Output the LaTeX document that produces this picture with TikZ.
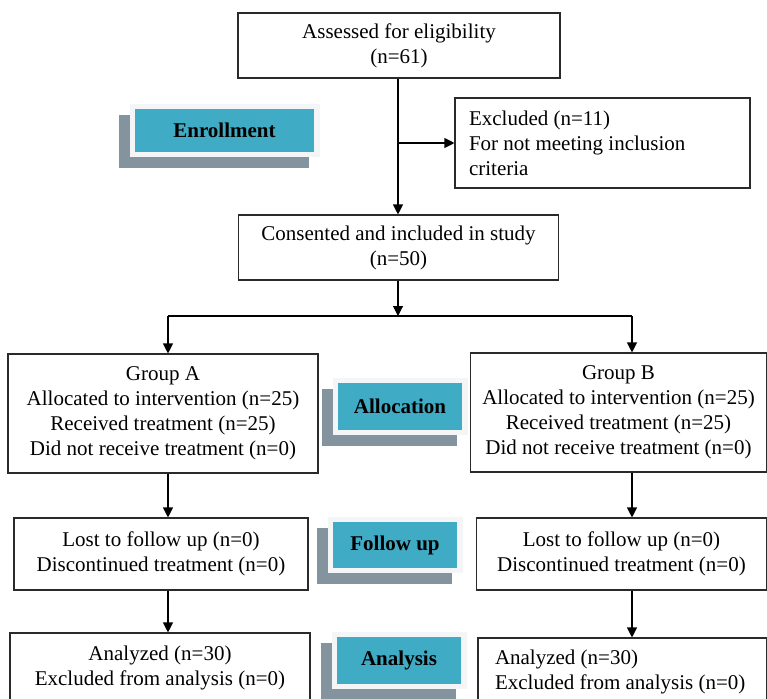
\documentclass[tikz,border=0pt]{standalone}
\usepackage{fontspec}
\setmainfont{Liberation Serif}
\usetikzlibrary{arrows.meta,calc,backgrounds}
\definecolor{tealc}{HTML}{40ABC4}
\definecolor{shadowc}{HTML}{84949E}
\definecolor{framec}{HTML}{F4F5F7}
\definecolor{linec}{HTML}{2A2A2A}
\begin{document}
\begin{tikzpicture}[x=1pt,y=1pt,
  box/.style={draw=linec, line width=1.1pt, fill=white, inner sep=0pt, align=center,
    font=\fontsize{21}{25}\selectfont},
  lbox/.style={box, align=flush left, inner xsep=14pt},
  arr/.style={draw=black, line width=1.1pt, -{Triangle[length=10pt,width=10pt]}},
  ln/.style={draw=black, line width=1.1pt},
  lbl/.style={fill=tealc, inner sep=0pt, font=\fontsize{21}{22}\selectfont\bfseries, text=black},
]
\useasboundingbox (0,0) rectangle (767,-698);
\clip (0,0) rectangle (767,-698);

% main boxes
\node[box, minimum width=322, minimum height=65] (elig) at (399,-45.5) {Assessed for eligibility\\(n=61)};
\node[lbox, text width=267, minimum height=90] (excl) at (602.5,-143) {Excluded (n=11)\\For not meeting inclusion\\criteria};
\node[box, minimum width=320, minimum height=65] (cons) at (398.5,-247.5) {Consented and included in study\\(n=50)};

\node[box, minimum width=310, minimum height=119] (ga) at (163,-413.5) {Group A\\Allocated to intervention (n=25)\\Received treatment (n=25)\\Did not receive treatment (n=0)};
\node[box, minimum width=296, minimum height=119] (gb) at (618.5,-412.5) {Group B\\Allocated to intervention (n=25)\\Received treatment (n=25)\\Did not receive treatment (n=0)};

\node[box, minimum width=294, minimum height=72] (fa) at (161,-554) {Lost to follow up (n=0)\\Discontinued treatment (n=0)};
\node[box, minimum width=290, minimum height=72] (fb) at (621.5,-554) {Lost to follow up (n=0)\\Discontinued treatment (n=0)};

\node[box, minimum width=300, minimum height=70] (aa) at (160,-668) {Analyzed (n=30)\\Excluded from analysis (n=0)};
\node[lbox, inner xsep=17pt, text width=255, minimum height=68] (ab) at (622.5,-672) {Analyzed (n=30)\\Excluded from analysis (n=0)};

% connectors
\coordinate (split) at (398,-316);
\coordinate (colA) at (168,0);
\coordinate (colB) at (632,0);
\coordinate (mid) at (398,-143);
\draw[ln] (elig.south -| mid) -- (mid);
\draw[arr] (mid) -- (cons.north -| mid);
\draw[arr] (mid) -- (excl.west |- mid);
\draw[arr] (cons.south -| split) -- (split);
\draw[ln] (split) -- (split -| colA);
\draw[ln] (split) -- (split -| colB);
\draw[arr] (split -| colA) -- (ga.north -| colA);
\draw[arr] (split -| colB) -- (gb.north -| colB);
\draw[arr] (ga.south -| colA) -- (fa.north -| colA);
\draw[arr] (gb.south -| colB) -- (fb.north -| colB);
\draw[arr] (fa.south -| colA) -- (aa.north -| colA);
\draw[arr] (fb.south -| colB) -- (ab.north -| colB);

% section labels
\node[lbl, minimum width=179, minimum height=43] (enr) at (224.5,-130.5) {Enrollment};
\node[lbl, minimum width=124, minimum height=47] (alc) at (400,-406.5) {Allocation};
\node[lbl, minimum width=124, minimum height=46] (fol) at (395,-545) {Follow up};
\node[lbl, minimum width=124, minimum height=47] (ana) at (399,-660.5) {Analysis};
\begin{scope}[on background layer]
  \foreach \n in {enr,alc,fol,ana}{
    \fill[shadowc] ($(\n.south west)+(-16,-16)$) rectangle ($(\n.north east)+(-5,-6)$);
    \fill[framec] ($(\n.south west)+(-5,-5)$) rectangle ($(\n.north east)+(6,5)$);
  }
\end{scope}
\end{tikzpicture}
\end{document}
